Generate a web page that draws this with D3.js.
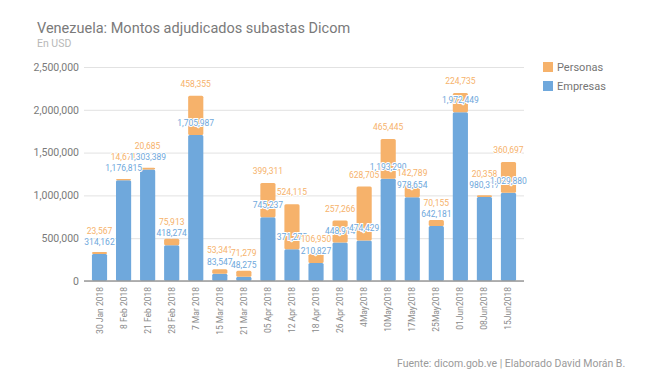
<!DOCTYPE html>
<html>
<head>
<meta charset="utf-8">
<script src="https://cdn.jsdelivr.net/npm/d3@7"></script>
<style>
  body { margin: 0; background: #fff; }
  svg { font-family: Roboto, "Noto Sans", sans-serif; }
</style>
</head>
<body>
<div id="chart"></div>
<script>
const fechas = ["30 Jan 2018", "8 Feb 2018", "21 Feb 2018", "28 Feb 2018", "7 Mar 2018",
  "15 Mar 2018", "21 Mar 2018", "05 Apr 2018", "12 Apr 2018", "18 Apr 2018", "26 Apr 2018",
  "4May2018", "10May2018", "17May2018", "25May2018", "01Jun2018", "08Jun2018", "15Jun2018"];
const empresas = [314162, 1176815, 1303389, 418274, 1705987, 83547, 48275, 745237, 371275,
  210827, 448914, 474429, 1193290, 978654, 642181, 1972449, 980317, 1029880];
const personas = [23567, 14671, 20685, 75913, 458355, 53341, 71279, 399311, 524115,
  106950, 257266, 628705, 465445, 142789, 70155, 224735, 20358, 360697];
const yTicks = [0, 500000, 1000000, 1500000, 2000000, 2500000];

const W = 664, H = 385;
const colEmp = "#6fa8dc", colPer = "#f6b26b";

const svg = d3.select("#chart").append("svg")
  .attr("width", W).attr("height", H);

// scales
const x = d3.scaleBand().domain(fechas).range([84, 524])
  .paddingInner(0.37).paddingOuter(0.33);
const y = d3.scaleLinear().domain([0, 2500000]).range([281, 67]);
const fmt = d3.format(",");

// title
svg.append("text").attr("x", 37).attr("y", 32.5)
  .attr("font-size", 14.5).attr("fill", "#7a7a7a")
  .text("Venezuela: Montos adjudicados subastas Dicom");
svg.append("text").attr("x", 37).attr("y", 47)
  .attr("font-size", 10.5).attr("fill", "#b8b8b8")
  .text("En USD");

// gridlines + y labels
const yAxis = svg.append("g").attr("transform", "translate(84,0)")
  .call(d3.axisLeft(y).tickValues(yTicks).tickSize(-440).tickFormat(fmt));
yAxis.select(".domain").remove();
yAxis.selectAll(".tick line").attr("stroke", "#e2e2e2");
yAxis.selectAll(".tick text").attr("x", -5).attr("font-size", 10.5)
  .attr("fill", "#7a7a7a").attr("font-family", "Roboto, sans-serif");

const rows = fechas.map((f, i) => ({ f, e: empresas[i], p: personas[i] }));

// bars
const g = svg.append("g");
g.selectAll("rect.emp").data(rows).join("rect")
  .attr("x", d => x(d.f)).attr("width", x.bandwidth())
  .attr("y", d => y(d.e)).attr("height", d => y(0) - y(d.e))
  .attr("rx", 1.5).attr("fill", colEmp);
g.selectAll("rect.per").data(rows).join("rect")
  .attr("x", d => x(d.f)).attr("width", x.bandwidth())
  .attr("y", d => y(d.e + d.p)).attr("height", d => y(d.e) - y(d.e + d.p))
  .attr("rx", 1.5).attr("fill", colPer);

// baseline
svg.append("line").attr("x1", 84).attr("x2", 524)
  .attr("y1", y(0)).attr("y2", y(0))
  .attr("stroke", "#9a9a9a").attr("stroke-width", 1.5);

// x labels
svg.append("g").selectAll("text").data(fechas).join("text")
  .attr("transform", d => `translate(${x(d) + x.bandwidth() / 2 + 3},287) rotate(-90)`)
  .attr("text-anchor", "end")
  .attr("font-size", 8.5).attr("fill", "#8a8a8a")
  .text(d => d);

// value labels, stacked so orange one stays above the blue one
const lab = svg.append("g").attr("font-size", 8.5).attr("text-anchor", "middle")
  .attr("stroke", "#fff").attr("stroke-width", 2).attr("paint-order", "stroke");
rows.forEach(d => {
  const cx = x(d.f) + x.bandwidth() / 2;
  const yb = y(d.e) - 9;
  const yo = Math.min(y(d.e + d.p) - 9, yb - 11.5);
  lab.append("text").attr("x", cx).attr("y", yo)
    .attr("fill", colPer).text(fmt(d.p));
  lab.append("text").attr("x", cx).attr("y", yb)
    .attr("fill", colEmp).text(fmt(d.e));
});

// legend
const legend = [["Personas", colPer], ["Empresas", colEmp]];
const lg = svg.append("g").selectAll("g").data(legend).join("g")
  .attr("transform", (d, i) => `translate(543,${62 + i * 19})`);
lg.append("rect").attr("width", 10).attr("height", 10).attr("fill", d => d[1]);
lg.append("text").attr("x", 14).attr("y", 8.5)
  .attr("font-size", 11).attr("fill", "#757575").text(d => d[0]);

// source
svg.append("text").attr("x", 397).attr("y", 367)
  .attr("font-size", 10.5).attr("fill", "#9a9a9a")
  .text("Fuente: dicom.gob.ve | Elaborado David Morán B.");
</script>
</body>
</html>
